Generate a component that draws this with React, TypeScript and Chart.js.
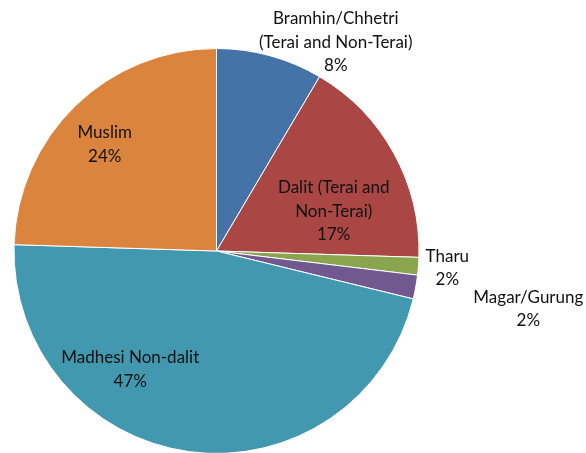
import React, { useEffect, useRef } from "react";
import { Chart, registerables } from "chart.js";

Chart.register(...registerables);

const categories = [
  "Bramhin/Chhetri (Terai and Non-Terai)",
  "Dalit (Terai and Non-Terai)",
  "Tharu",
  "Magar/Gurung",
  "Madhesi Non-dalit",
  "Muslim",
];
const shares = [8.5, 17.0, 1.4, 1.9, 46.7, 24.5];
const percentLabels = ["8%", "17%", "2%", "2%", "47%", "24%"];
const labelLines = [
  ["Bramhin/Chhetri", "(Terai and Non-Terai)"],
  ["Dalit (Terai and", "Non-Terai)"],
  ["Tharu"],
  ["Magar/Gurung"],
  ["Madhesi Non-dalit"],
  ["Muslim"],
];
const colors = ["#4572A7", "#AA4643", "#89A54E", "#71588F", "#4198AF", "#DB843D"];

// label placement relative to pie centre, in units of radius
const labelPlacement = [
  [0.589, -1.03],
  [0.579, -0.197],
  [1.14, 0.084],
  [1.54, 0.286],
  [-0.426, 0.586],
  [-0.552, -0.527],
];

const labelPlugin = {
  id: "sliceLabels",
  afterDatasetsDraw(chart: any) {
    const meta = chart.getDatasetMeta(0);
    const arc = meta.data[0];
    if (!arc) return;
    const { x, y, outerRadius } = arc.getProps(["x", "y", "outerRadius"], true);
    const ctx = chart.ctx;
    ctx.save();
    ctx.fillStyle = "#111111";
    ctx.font = "17px Lato, 'Open Sans', sans-serif";
    ctx.textAlign = "center";
    ctx.textBaseline = "middle";
    const lh = 23.5;
    labelLines.forEach((ls, i) => {
      const lines = [...ls, percentLabels[i]];
      const cx = x + labelPlacement[i][0] * outerRadius;
      const cy = y + labelPlacement[i][1] * outerRadius;
      const top = cy - ((lines.length - 1) * lh) / 2;
      lines.forEach((t, j) => ctx.fillText(t, cx, top + j * lh));
    });
    ctx.restore();
  },
};

export default function App() {
  const ref = useRef<HTMLCanvasElement | null>(null);
  useEffect(() => {
    if (!ref.current) return;
    const chart = new Chart(ref.current, {
      type: "pie",
      data: {
        labels: categories,
        datasets: [
          {
            data: shares,
            backgroundColor: colors,
            borderColor: "#ffffff",
            borderWidth: 1,
          },
        ],
      },
      options: {
        animation: false,
        responsive: true,
        maintainAspectRatio: false,
        layout: { padding: { top: 48, bottom: 6, left: 13, right: 166 } },
        plugins: { legend: { display: false }, tooltip: { enabled: false } },
      },
      plugins: [labelPlugin],
    });
    return () => chart.destroy();
  }, []);
  return (
    <div
      style={{
        position: "fixed",
        left: 0,
        top: 0,
        width: 586,
        height: 453,
        overflow: "hidden",
        background: "#fff",
      }}
    >
      <div style={{ width: 586, height: 460 }}>
        <canvas ref={ref} />
      </div>
    </div>
  );
}
